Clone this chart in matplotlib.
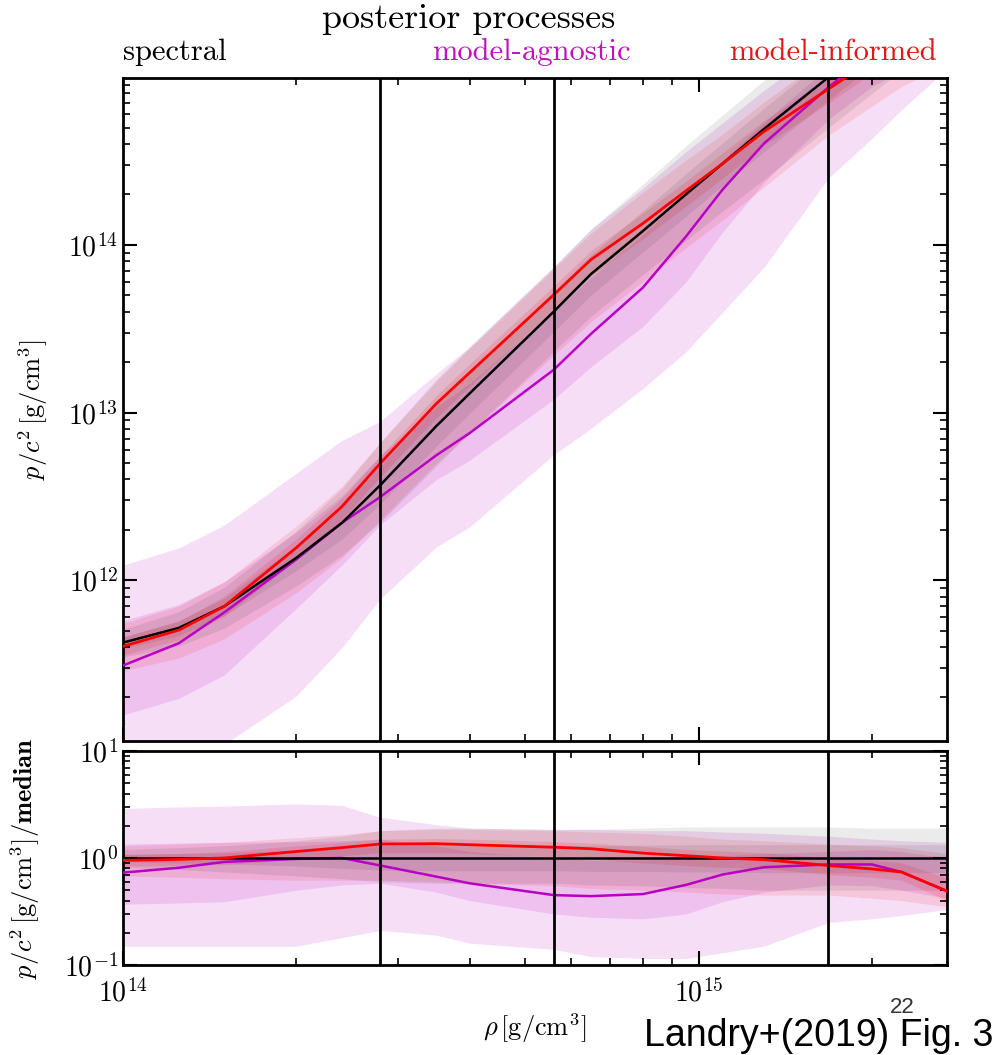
import matplotlib
matplotlib.use('Agg')
import matplotlib.pyplot as plt
import matplotlib.ticker as ticker
import numpy as np
#
plt.rcParams['font.family'] = 'serif'
plt.rcParams['font.serif'] = ['cmr10']
plt.rcParams['mathtext.fontset'] = 'cm'
plt.rcParams['axes.unicode_minus'] = False
plt.rcParams['axes.formatter.use_mathtext'] = True
#
# density grid [g/cm^3]
rho = [1.0e14, 1.25e14, 1.5e14, 2.0e14, 2.4e14, 2.8e14, 3.5e14, 4.0e14, 5.6e14,
	   6.5e14, 8.0e14, 9.5e14, 1.1e15, 1.3e15, 1.68e15, 2.0e15, 2.25e15, 2.7e15]
#
# spectral median pressure p/c^2 [g/cm^3] -- the reference for the ratio panel
spec_med = [4.25e11, 5.2e11, 7.0e11, 1.36e12, 2.2e12, 3.7e12, 8.3e12, 1.3e13, 4.0e13,
			6.7e13, 1.21e14, 2.0e14, 3.05e14, 4.93e14, 1.0e15, 1.6e15, 2.2e15, 3.4e15]
#
# everything below is relative to spec_med
spec_90_hi = [1.20, 1.25, 1.30, 1.45, 1.60, 1.80, 1.90, 1.90, 1.85, 1.85, 1.90, 1.95, 1.95, 1.95, 1.95, 1.90, 1.90, 1.90]
spec_90_lo = [0.82, 0.78, 0.74, 0.68, 0.64, 0.60, 0.58, 0.58, 0.58, 0.56, 0.55, 0.53, 0.52, 0.50, 0.50, 0.50, 0.50, 0.50]
spec_50_hi = [1.08, 1.10, 1.12, 1.18, 1.25, 1.30, 1.33, 1.33, 1.32, 1.30, 1.32, 1.33, 1.33, 1.33, 1.33, 1.33, 1.33, 1.33]
spec_50_lo = [0.92, 0.90, 0.88, 0.84, 0.80, 0.77, 0.76, 0.76, 0.76, 0.75, 0.75, 0.74, 0.74, 0.73, 0.73, 0.73, 0.73, 0.73]
#
inf_med = [0.95, 0.97, 1.00, 1.15, 1.25, 1.35, 1.36, 1.33, 1.26, 1.22, 1.11, 1.05, 1.00, 0.965, 0.85, 0.79, 0.74, 0.49]
inf_90_hi = [1.30, 1.35, 1.40, 1.55, 1.65, 1.80, 1.85, 1.85, 1.80, 1.75, 1.70, 1.60, 1.50, 1.45, 1.35, 1.30, 1.25, 1.10]
inf_90_lo = [0.68, 0.66, 0.64, 0.62, 0.62, 0.62, 0.60, 0.58, 0.55, 0.52, 0.50, 0.48, 0.46, 0.45, 0.45, 0.42, 0.40, 0.35]
inf_50_hi = [1.08, 1.10, 1.15, 1.30, 1.40, 1.50, 1.52, 1.50, 1.42, 1.38, 1.28, 1.20, 1.16, 1.12, 1.00, 0.95, 0.90, 0.65]
inf_50_lo = [0.84, 0.85, 0.87, 0.97, 1.05, 1.12, 1.12, 1.10, 1.03, 0.98, 0.90, 0.85, 0.82, 0.80, 0.70, 0.66, 0.62, 0.40]
#
agn_med = [0.73, 0.81, 0.92, 0.98, 1.00, 0.85, 0.67, 0.58, 0.45, 0.44, 0.46, 0.56, 0.70, 0.82, 0.87, 0.87, 0.74, 0.49]
agn_90_hi = [2.90, 3.00, 3.05, 3.20, 3.10, 2.40, 2.05, 1.90, 1.85, 1.85, 1.80, 1.80, 1.75, 1.70, 1.60, 1.50, 1.45, 1.40]
agn_90_lo = [0.15, 0.15, 0.15, 0.15, 0.18, 0.21, 0.19, 0.16, 0.14, 0.12, 0.115, 0.115, 0.13, 0.15, 0.25, 0.27, 0.29, 0.33]
agn_50_hi = [1.35, 1.38, 1.40, 1.42, 1.45, 1.50, 1.30, 1.15, 1.00, 0.95, 0.95, 1.00, 1.05, 1.10, 1.15, 1.20, 1.15, 1.00]
agn_50_lo = [0.37, 0.38, 0.39, 0.50, 0.56, 0.58, 0.48, 0.40, 0.30, 0.28, 0.27, 0.30, 0.39, 0.48, 0.56, 0.55, 0.50, 0.42]
#
# 1, 2 and 6 times nuclear saturation density
ref_densities = [2.8e14, 5.6e14, 1.68e15]
#
AGN_COLOR = '#b800c4'
INF_COLOR = 'r'
SPEC_COLOR = 'k'
#
processes = [
	(agn_50_lo, agn_50_hi, agn_90_lo, agn_90_hi, 'm', 0.13, 0.13),
	(inf_50_lo, inf_50_hi, inf_90_lo, inf_90_hi, INF_COLOR, 0.10, 0.12),
	(spec_50_lo, spec_50_hi, spec_90_lo, spec_90_hi, SPEC_COLOR, 0.08, 0.08),
]
#
def panel(ax, scale):
	scale = np.asarray(scale)
	for lo50, hi50, lo90, hi90, color, a90, a50 in processes:
		ax.fill_between(rho, np.asarray(lo90)*scale, np.asarray(hi90)*scale, color=color, alpha=a90, lw=0)
		ax.fill_between(rho, np.asarray(lo50)*scale, np.asarray(hi50)*scale, color=color, alpha=a50, lw=0)
	#
	ax.plot(rho, np.asarray(agn_med)*scale, color=AGN_COLOR, lw=1.8, zorder=5)
	ax.plot(rho, np.asarray(inf_med)*scale, color=INF_COLOR, lw=2.0, zorder=6)
	ax.plot(rho, np.ones(len(rho))*scale, color=SPEC_COLOR, lw=1.8, zorder=5)
	#
	for r in ref_densities:
		ax.axvline(r, color='k', lw=2, zorder=7)
	#
	ax.set_xscale('log')
	ax.set_yscale('log')
	ax.set_xlim(1e14, 2.7e15)
	ax.tick_params(which='both', direction='in', top=True, right=True, labelsize=20)
	ax.tick_params(which='major', length=10, width=1.5)
	ax.tick_params(which='minor', length=5, width=1.2)
	for s in ax.spines.values():
		s.set_linewidth(2)
#
fig = plt.figure(figsize=(10, 10.55), dpi=100)
#
ax_top = fig.add_axes([0.123, 0.2976, 0.824, 0.6285])
panel(ax_top, spec_med)
ax_top.set_ylim(1.1e11, 9.9e14)
ax_top.tick_params(labelbottom=False)
ax_top.set_ylabel(r'$p/c^2\,[\mathrm{g/cm^3}]$', fontsize=19)
ax_top.yaxis.set_label_coords(-0.088, 0.5)
#
ax_bot = fig.add_axes([0.123, 0.0853, 0.824, 0.2029])
panel(ax_bot, np.ones(len(rho)))
ax_bot.set_ylim(0.1, 10)
ax_bot.yaxis.set_major_locator(ticker.LogLocator(base=10, numticks=5))
ax_bot.tick_params(axis='x', which='major', pad=10)
ax_bot.set_ylabel(r'$p/c^2\,[\mathrm{g/cm^3}]\mathbf{/median}$', fontsize=19)
ax_bot.yaxis.set_label_coords(-0.098, 0.5)
#
fig.text(0.535, 0.026, r'$\rho\,[\mathrm{g/cm^3}]$', fontsize=19, ha='center', va='center')
#
fig.text(0.469, 0.9735, 'posterior processes', fontsize=26, ha='center', va='baseline')
fig.text(0.123, 0.943, 'spectral', fontsize=22, ha='left', va='baseline', color='k')
fig.text(0.531, 0.943, 'model-agnostic', fontsize=22, ha='center', va='baseline', color='#c010c0')
fig.text(0.937, 0.943, 'model-informed', fontsize=22, ha='right', va='baseline', color='#e01818')
#
fig.text(0.915, 0.045, '22', fontsize=16, ha='right', va='center', color='#333333', family='Liberation Sans')
fig.text(0.993, 0.009, 'Landry+(2019) Fig. 3', fontsize=27, ha='right', va='baseline', color='k', family='Liberation Sans')
#
plt.savefig('out.png', dpi=100)
